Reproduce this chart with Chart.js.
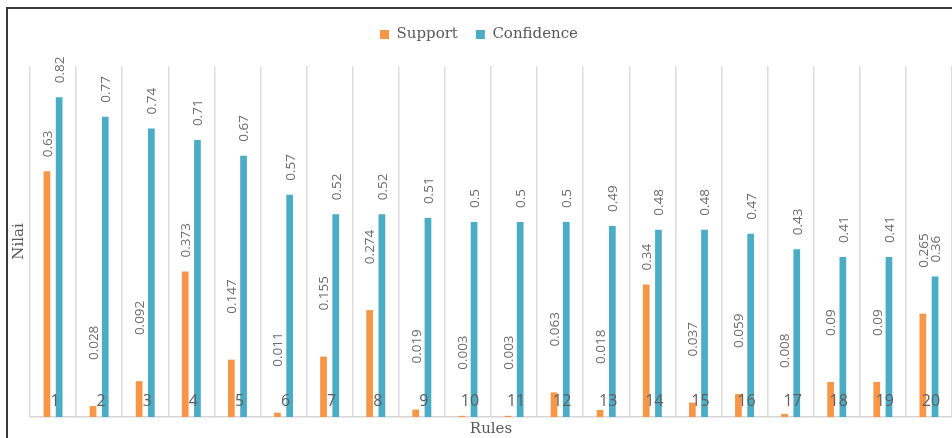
<!DOCTYPE html>
<html>
<head>
<meta charset="utf-8">
<script src="https://cdn.jsdelivr.net/npm/chart.js@4/dist/chart.umd.min.js"></script>
<style>
  html, body { margin: 0; padding: 0; background: #fff; }
  #wrap { position: relative; width: 952px; height: 438px; overflow: hidden; }
  #chart { position: absolute; left: 0; top: 0; }
  #frame {
    position: absolute; left: 6px; top: 7px; width: 980px; height: 460px;
    border-left: 2px solid #3a3a3a; border-top: 2px solid #3a3a3a;
    pointer-events: none;
  }
</style>
</head>
<body>
<div id="wrap">
  <canvas id="chart" width="952" height="438"></canvas>
  <div id="frame"></div>
</div>
<script>
const rules = ["1", "2", "3", "4", "5", "6", "7", "8", "9", "10",
  "11", "12", "13", "14", "15", "16", "17", "18", "19", "20"];
const support = [0.63, 0.028, 0.092, 0.373, 0.147, 0.011, 0.155, 0.274, 0.019, 0.003,
  0.003, 0.063, 0.018, 0.34, 0.037, 0.059, 0.008, 0.09, 0.09, 0.265];
const confidence = [0.82, 0.77, 0.74, 0.71, 0.67, 0.57, 0.52, 0.52, 0.51, 0.5,
  0.5, 0.5, 0.49, 0.48, 0.48, 0.47, 0.43, 0.41, 0.41, 0.36];

const textGray = "#595959";
const serif = "'DejaVu Serif', serif";
const sans = "'Open Sans', sans-serif";

// value labels, rotated, above each bar
const valueLabels = {
  id: "valueLabels",
  afterDatasetsDraw(chart) {
    const ctx = chart.ctx;
    ctx.save();
    ctx.font = "13.5px " + sans;
    ctx.fillStyle = "#6b6b6b";
    ctx.textAlign = "left";
    ctx.textBaseline = "middle";
    chart.data.datasets.forEach((ds, i) => {
      const meta = chart.getDatasetMeta(i);
      meta.data.forEach((bar, j) => {
        const v = ds.data[j];
        let gap = 14;
        if (i === 0 && v < 0.3) gap = 46;
        ctx.save();
        ctx.translate(bar.x + 1, bar.y - gap);
        ctx.rotate(-Math.PI / 2);
        ctx.fillText(String(v), 0, 0);
        ctx.restore();
      });
    });
    ctx.restore();
  },
};

// extra room under the legend
const legendSpace = {
  id: "legendSpace",
  beforeInit(chart) {
    const fit = chart.legend.fit;
    chart.legend.fit = function () {
      fit.bind(chart.legend)();
      this.height += 14;
    };
  },
};

const ctx = document.getElementById("chart").getContext("2d");
new Chart(ctx, {
  type: "bar",
  data: {
    labels: rules,
    datasets: [
      {
        label: "Support",
        data: support,
        backgroundColor: "#f79646",
        barPercentage: 0.55,
        categoryPercentage: 0.53,
      },
      {
        label: "Confidence",
        data: confidence,
        backgroundColor: "#4bacc6",
        barPercentage: 0.55,
        categoryPercentage: 0.53,
      },
    ],
  },
  options: {
    responsive: false,
    animation: false,
    layout: { padding: { left: 6, right: 0, top: 9, bottom: 0 } },
    plugins: {
      legend: {
        position: "top",
        labels: {
          boxWidth: 9,
          boxHeight: 9,
          padding: 18,
          color: textGray,
          font: { family: serif, size: 15 },
        },
      },
      tooltip: { enabled: false },
    },
    scales: {
      x: {
        grid: { color: "#dcdcdc", lineWidth: 1.5, drawTicks: false },
        border: { color: "#d6d6d6", width: 1.5 },
        ticks: {
          z: 1,
          color: "#5f5f5f",
          font: { family: sans, size: 16 },
          mirror: true,
          padding: 6,
          labelOffset: 2,
          maxRotation: 0,
          autoSkip: false,
        },
        title: {
          display: true,
          text: "Rules",
          color: textGray,
          font: { family: serif, size: 15 },
          padding: { top: 0, bottom: 0 },
        },
        afterFit(scale) {
          scale.height = 21;
        },
      },
      y: {
        min: 0,
        max: 0.9,
        grid: { display: false },
        border: { display: false },
        ticks: { display: false },
        title: {
          display: true,
          text: "Nilai",
          color: textGray,
          font: { family: serif, size: 15 },
          padding: { top: 4, bottom: 0 },
        },
        afterFit(scale) {
          scale.width = 24;
        },
      },
    },
  },
  plugins: [valueLabels, legendSpace],
});
</script>
</body>
</html>
